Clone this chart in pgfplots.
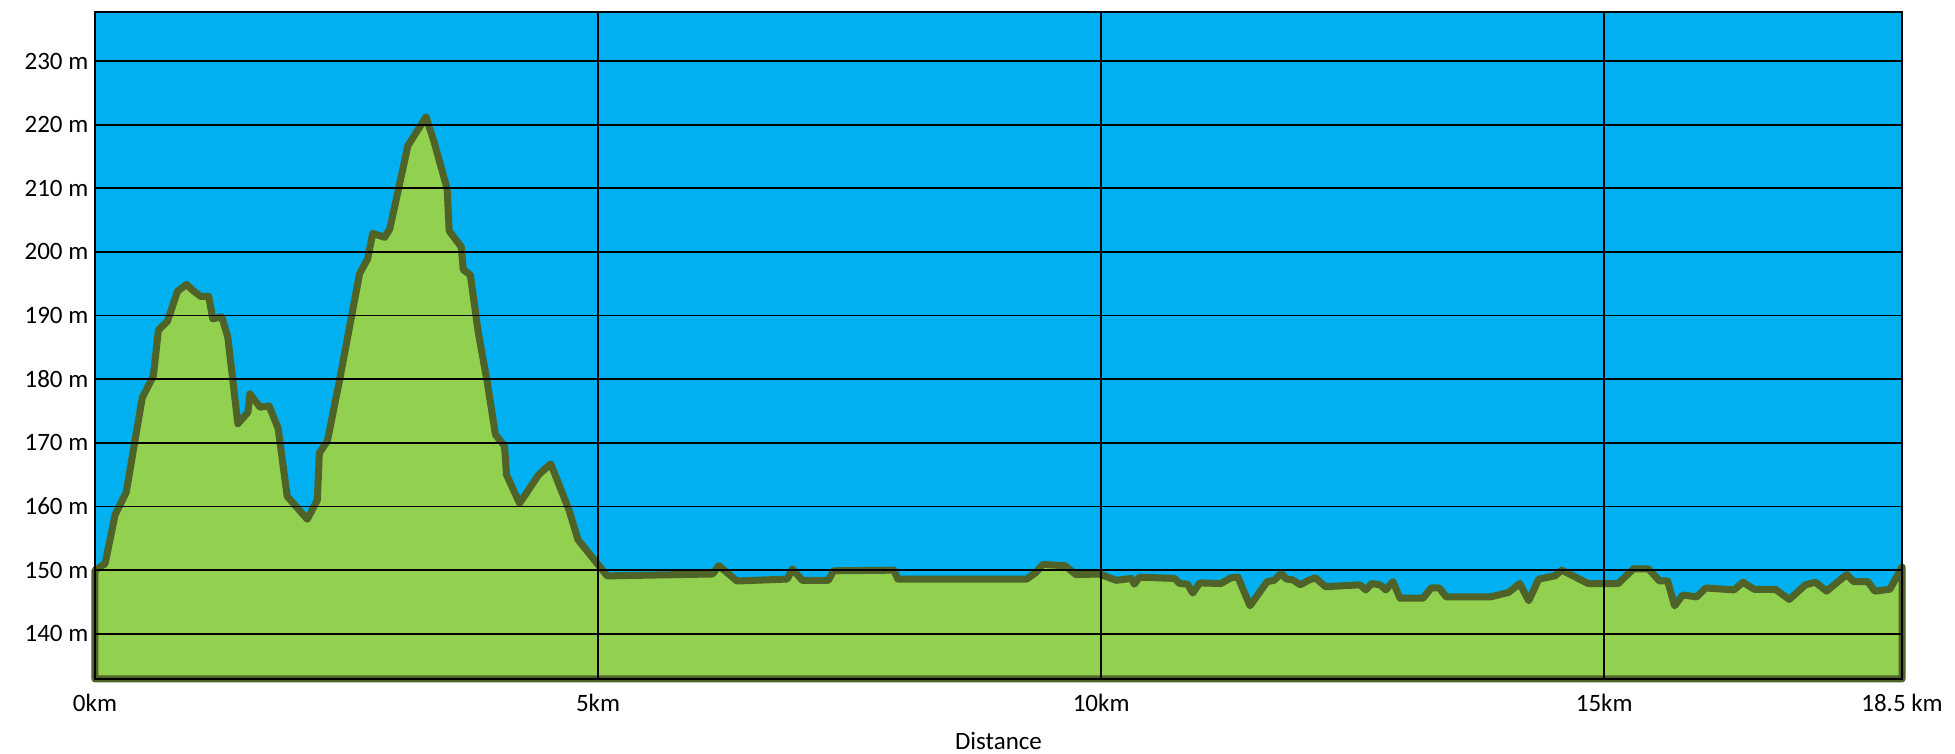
\documentclass[border=0pt]{standalone}
\usepackage{pgfplots}
\pgfplotsset{compat=1.18}
\usepackage{fontspec}
\setmainfont{Carlito}
\usetikzlibrary{calc}
\definecolor{sky}{RGB}{0,176,240}
\definecolor{grass}{RGB}{146,208,80}
\definecolor{ridge}{RGB}{79,98,40}
\begin{document}
\begin{tikzpicture}
\fontsize{12.5}{15}\selectfont
\begin{axis}[
  scale only axis,
  width=903.5pt, height=333.5pt,
  xmin=0, xmax=17.96, ymin=132.9, ymax=237.7,
  axis background/.style={fill=sky},
  axis on top,
  clip=false,
  axis line style={black, line width=0.9pt},
  grid=major,
  major grid style={black, line width=0.9pt},
  major tick length=0pt,
  xtick={0,5,10,15,17.96},
  xticklabels={0km,5km,10km,15km,18.5 km},
  ytick={140,150,160,170,180,190,200,210,220,230},
  yticklabels={140 m,150 m,160 m,170 m,180 m,190 m,200 m,210 m,220 m,230 m},
  tick label style={font=\fontsize{12.5}{15}\selectfont, text=black},
  xticklabel style={yshift=-3pt},
  yticklabel style={xshift=1pt},
  xlabel={Distance},
  xlabel style={font=\fontsize{12.5}{15}\selectfont, at={(axis description cs:0.5,0)}, anchor=center, yshift=-31pt, inner sep=0pt},
]
\addplot[fill=grass, draw=ridge, line width=3.5pt, line join=round] coordinates {
(0,150) (0.10,151) (0.20,158.7) (0.31,162.2) (0.47,177.1) (0.58,180.5) (0.63,187.7) (0.72,189.1)
(0.82,193.8) (0.91,194.9) (0.97,194.0) (1.05,193.0) (1.13,193.0) (1.17,189.5) (1.26,189.8) (1.32,186.6)
(1.42,173.0) (1.52,174.8) (1.54,177.7) (1.64,175.6) (1.73,175.8) (1.82,172.3) (1.91,161.6) (2.11,158.0)
(2.21,161.0) (2.23,168.4) (2.31,170.3) (2.43,179.8) (2.63,196.6) (2.71,198.9) (2.76,202.9) (2.88,202.3)
(2.93,203.6) (3.11,216.7) (3.29,221.2) (3.37,217.3) (3.50,209.9) (3.52,203.3) (3.64,200.8) (3.66,197.2)
(3.73,196.4) (3.81,187.3) (3.90,179.4) (3.98,171.3) (4.07,169.5) (4.09,165.0) (4.22,160.5) (4.41,165.0)
(4.53,166.7) (4.71,159.5) (4.80,154.8) (5.09,149.1) (6.14,149.4) (6.20,150.7) (6.38,148.3) (6.88,148.6)
(6.93,150.2) (7.03,148.4) (7.29,148.4) (7.34,149.9) (7.94,150.0) (7.98,148.6) (9.26,148.6) (9.35,149.6)
(9.42,150.9) (9.64,150.7) (9.75,149.3) (9.98,149.4) (10.15,148.4) (10.30,148.7) (10.33,147.8) (10.38,148.9)
(10.73,148.7) (10.78,147.9) (10.86,147.8) (10.91,146.4) (10.98,148.0) (11.19,147.9) (11.29,148.8) (11.36,148.9)
(11.48,144.4) (11.65,148.2) (11.72,148.4) (11.79,149.5) (11.84,148.6) (11.90,148.5) (11.98,147.7) (12.06,148.4)
(12.13,148.8) (12.23,147.4) (12.57,147.7) (12.63,146.9) (12.69,147.9) (12.77,147.7) (12.83,146.9) (12.90,148.2)
(12.97,145.6) (13.20,145.6) (13.28,147.2) (13.36,147.2) (13.43,145.8) (13.87,145.8) (14.05,146.5) (14.16,147.9)
(14.25,145.2) (14.35,148.6) (14.51,149.1) (14.58,150.0) (14.84,147.9) (15.14,147.9) (15.29,150.2) (15.44,150.2)
(15.55,148.3) (15.63,148.3) (15.70,144.4) (15.78,146.1) (15.92,145.8) (16.01,147.2) (16.29,146.9) (16.38,148.1)
(16.49,147.0) (16.70,147.0) (16.84,145.4) (17.00,147.7) (17.10,148.1) (17.21,146.7) (17.41,149.3) (17.48,148.2)
(17.62,148.2) (17.69,146.7) (17.84,147.0) (17.96,150.5)
} \closedcycle;
\end{axis}
\path ($(current axis.south west)+(-47.5pt,-37.5pt)$) rectangle ($(current axis.north east)+(26.5pt,6pt)$);
\end{tikzpicture}
\end{document}
